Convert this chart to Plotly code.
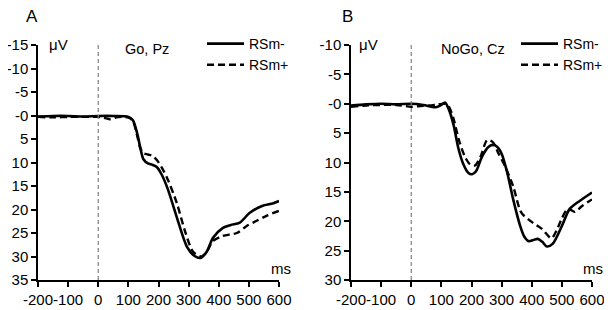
import plotly.graph_objects as go

# ---------------- data ----------------
A_minus_t = [-200, -150, -100, -50, 0, 50, 100, 115, 130, 140, 150, 165, 180, 195, 210, 230, 260, 295, 320, 340, 360, 381, 414, 440, 470, 503, 546, 575, 600]
A_minus_v = [0.2, 0.1, 0.1, 0.2, 0.1, 0.1, 0.3, 1.0, 4.0, 7.0, 9.3, 10.2, 10.5, 11.0, 12.5, 15.5, 21.5, 28.0, 29.9, 30.3, 29.0, 26.0, 23.9, 23.3, 22.8, 20.7, 19.2, 18.8, 18.2]

A_plus_t = [-200, -150, -100, -50, 0, 20, 40, 60, 80, 100, 115, 130, 140, 150, 165, 180, 195, 210, 230, 260, 290, 315, 343, 360, 381, 414, 460, 493, 526, 560, 600]
A_plus_v = [0.3, 0.4, 0.3, 0.3, 0.3, 0.5, 0.8, 0.4, 0.3, 0.4, 1.2, 4.5, 7.0, 8.0, 8.3, 8.6, 9.5, 11.0, 13.5, 18.5, 25.0, 29.0, 30.0, 29.0, 26.7, 25.6, 25.0, 23.5, 22.4, 21.3, 20.3]

B_minus_t = [-200, -150, -100, -50, 0, 40, 80, 100, 112, 125, 140, 157, 173, 190, 202, 215, 235, 255, 270, 285, 300, 318, 338, 361, 375, 390, 405, 420, 435, 450, 470, 500, 526, 560, 600]
B_minus_v = [0.3, 0.1, 0.0, 0.1, 0.0, 0.2, 0.6, 0.2, -0.2, 1.0, 3.5, 7.7, 10.3, 11.8, 12.0, 11.5, 9.0, 7.4, 7.0, 7.3, 8.5, 11.6, 16.2, 20.7, 22.6, 23.4, 23.2, 23.0, 23.5, 24.3, 23.8, 20.8, 17.9, 16.5, 15.1]

B_plus_t = [-200, -150, -100, -50, 0, 30, 60, 90, 112, 125, 140, 160, 180, 195, 212, 230, 252, 270, 290, 310, 338, 365, 394, 434, 465, 483, 500, 520, 543, 565, 593, 600]
B_plus_v = [0.5, 0.3, 0.2, 0.2, 0.5, 0.4, 0.3, 0.1, 0.0, 0.5, 2.5, 6.5, 9.2, 10.3, 10.5, 9.0, 6.2, 6.5, 8.5, 10.5, 14.0, 18.5, 19.9, 21.3, 22.9, 21.5, 19.5, 17.9, 18.4, 17.5, 16.5, 16.3]

x_ticks = [-200, -100, 0, 100, 200, 300, 400, 500, 600]
x_labels = ["-200", "-100", "0", "100", "200", "300", "400", "500", "600"]
A_yticks = [-15, -10, -5, 0, 5, 10, 15, 20, 25, 30, 35]
A_ylabels = ["-15", "-10", "-5", "-0", "5", "10", "15", "20", "25", "30", "35"]
B_yticks = [-10, -5, 0, 5, 10, 15, 20, 25, 30]
B_ylabels = ["-10", "-5", "-0", "5", "10", "15", "20", "25", "30"]

series_names = ["RSm-", "RSm+"]

FONT = "Liberation Sans, Arial, sans-serif"
OFF = 8  # page body margin
W, H = 612 - OFF, 310 - OFF


def px(x):
    return (x - OFF) / W


def py(y):
    return 1 - (y - OFF) / H


fig = go.Figure()

line_solid = dict(color="black", width=2.6, shape="spline", smoothing=0.8)
line_dash = dict(color="black", width=2.4, dash="7px,4px", shape="spline", smoothing=0.8)

fig.add_trace(go.Scatter(x=A_minus_t, y=A_minus_v, mode="lines", name=series_names[0], line=line_solid,
                         xaxis="x", yaxis="y", legend="legend"))
fig.add_trace(go.Scatter(x=A_plus_t, y=A_plus_v, mode="lines", name=series_names[1], line=line_dash,
                         xaxis="x", yaxis="y", legend="legend"))
fig.add_trace(go.Scatter(x=B_minus_t, y=B_minus_v, mode="lines", name=series_names[0], line=line_solid,
                         xaxis="x2", yaxis="y2", legend="legend2"))
fig.add_trace(go.Scatter(x=B_plus_t, y=B_plus_v, mode="lines", name=series_names[1], line=line_dash,
                         xaxis="x2", yaxis="y2", legend="legend2"))

ydom = [py(280), py(45)]
axis_common = dict(showgrid=False, zeroline=False, showline=True, linecolor="black", linewidth=1.5,
                   ticks="outside", ticklen=5, tickwidth=1.5, tickcolor="black", automargin=False,
                   tickfont=dict(family=FONT, size=15, color="black"))

leg_common = dict(xanchor="left", yanchor="top", bgcolor="rgba(0,0,0,0)",
                  font=dict(family=FONT, size=14, color="black"), itemwidth=37, tracegroupgap=0)

fig.update_layout(
    width=W, height=H,
    margin=dict(l=0, r=0, t=0, b=0),
    paper_bgcolor="white", plot_bgcolor="white",
    font=dict(family=FONT, size=15, color="black"),
    xaxis=dict(domain=[px(38), px(279)], range=[-200, 600], tickvals=x_ticks, ticktext=x_labels,
               tickangle=0, anchor="y", **axis_common),
    yaxis=dict(domain=ydom, range=[35, -15], tickvals=A_yticks, ticktext=A_ylabels,
               anchor="x", **axis_common),
    xaxis2=dict(domain=[px(351), px(592)], range=[-200, 600], tickvals=x_ticks, ticktext=x_labels,
                tickangle=0, anchor="y2", **axis_common),
    yaxis2=dict(domain=ydom, range=[30, -10], tickvals=B_yticks, ticktext=B_ylabels,
                anchor="x2", **axis_common),
    legend=dict(x=px(202), y=py(28), **leg_common),
    legend2=dict(x=px(516), y=py(28), **leg_common),
    showlegend=True,
)

# stimulus onset lines
for xr, yr in [("x", "y domain"), ("x2", "y2 domain")]:
    fig.add_shape(type="line", xref=xr, yref=yr, x0=0, x1=0, y0=0, y1=1,
                  line=dict(color="#808080", width=1.2, dash="4px,3px"))

ann = [
    dict(text="A", x=px(24), y=py(16), size=17),
    dict(text="B", x=px(340), y=py(16), size=17),
    dict(text="μV", x=px(47), y=py(45), size=15),
    dict(text="μV", x=px(357), y=py(45), size=15),
    dict(text="Go, Pz", x=px(123), y=py(49), size=14.5),
    dict(text="NoGo, Cz", x=px(439), y=py(49), size=14.5),
]
for a in ann:
    fig.add_annotation(text=a["text"], x=a["x"], y=a["y"], xref="paper", yref="paper",
                       xanchor="left", yanchor="middle", showarrow=False,
                       font=dict(family=FONT, size=a["size"], color="black"))
for xr in [293, 605]:
    fig.add_annotation(text="ms", x=px(xr), y=py(268), xref="paper", yref="paper",
                       xanchor="right", yanchor="middle", showarrow=False,
                       font=dict(family=FONT, size=15, color="black"))

fig.write_html("out.html")
